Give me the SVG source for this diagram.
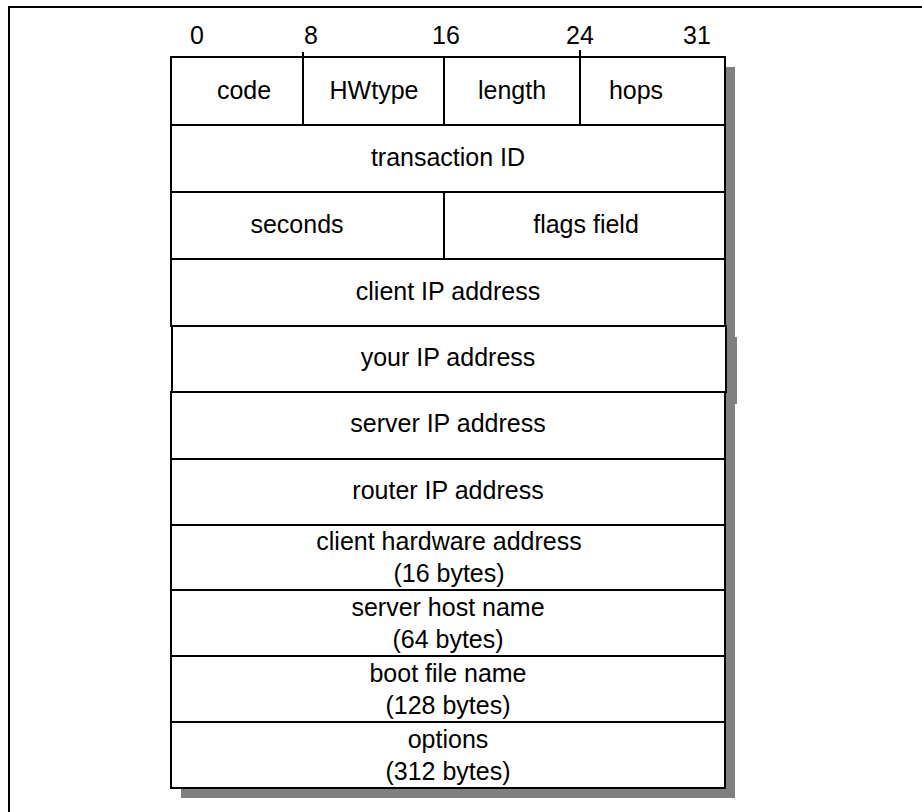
<svg xmlns="http://www.w3.org/2000/svg" width="922" height="812" viewBox="0 0 922 812">
<style>
.t{font-family:"Liberation Sans",Arial,sans-serif;font-size:25px;fill:#000;text-anchor:middle}
.c{fill:#fff;stroke:#000;stroke-width:2}
.l{stroke:#000;stroke-width:2;fill:none}
.s{fill:#808080}
</style>
<rect x="9" y="7" width="940" height="840" fill="#fff" stroke="#000" stroke-width="2"/>
<g id="shadow">
<rect class="s" x="181" y="67" width="554" height="731"/>
<rect class="s" x="728" y="337" width="9" height="67"/>
</g>
<g id="bits">
<text class="t" x="197" y="44">0</text>
<text class="t" x="311" y="44">8</text>
<text class="t" x="446" y="44">16</text>
<text class="t" x="580" y="44">24</text>
<text class="t" x="697" y="44">31</text>
<line class="l" x1="303" y1="52" x2="303" y2="57" stroke-width="1"/>
<line class="l" x1="580" y1="50" x2="580" y2="57" stroke-width="1"/>
</g>
<g id="row-header">
<rect class="c" x="171" y="57" width="554" height="68"/>
<line class="l" x1="303" y1="57" x2="303" y2="125"/>
<line class="l" x1="444" y1="57" x2="444" y2="125"/>
<line class="l" x1="580" y1="57" x2="580" y2="125"/>
<text class="t" x="244" y="99">code</text>
<text class="t" x="374" y="99">HWtype</text>
<text class="t" x="512" y="99">length</text>
<text class="t" x="636" y="99">hops</text>
</g>
<g id="row-transaction">
<rect class="c" x="171" y="125" width="554" height="67"/>
<text class="t" x="448" y="166">transaction ID</text>
</g>
<g id="row-seconds">
<rect class="c" x="171" y="192" width="554" height="67"/>
<line class="l" x1="444" y1="192" x2="444" y2="259"/>
<text class="t" x="297" y="233">seconds</text>
<text class="t" x="586" y="233">flags field</text>
</g>
<g id="row-client-ip">
<rect class="c" x="171" y="259" width="554" height="67"/>
<text class="t" x="448" y="300">client IP address</text>
</g>
<g id="row-your-ip">
<rect class="c" x="172" y="326" width="554" height="66"/>
<text class="t" x="448" y="366">your IP address</text>
</g>
<g id="row-server-ip">
<rect class="c" x="171" y="392" width="554" height="67"/>
<text class="t" x="448" y="432">server IP address</text>
</g>
<g id="row-router-ip">
<rect class="c" x="171" y="459" width="554" height="66"/>
<text class="t" x="448" y="499">router IP address</text>
</g>
<g id="row-chaddr">
<rect class="c" x="171" y="525" width="554" height="65"/>
<text class="t" x="449" y="550">client hardware address</text>
<text class="t" x="449" y="582">(16 bytes)</text>
</g>
<g id="row-sname">
<rect class="c" x="171" y="590" width="554" height="66"/>
<text class="t" x="448" y="616">server host name</text>
<text class="t" x="448" y="648">(64 bytes)</text>
</g>
<g id="row-file">
<rect class="c" x="171" y="656" width="554" height="66"/>
<text class="t" x="448" y="682">boot file name</text>
<text class="t" x="448" y="714">(128 bytes)</text>
</g>
<g id="row-options">
<rect class="c" x="171" y="722" width="554" height="66"/>
<text class="t" x="448" y="748">options</text>
<text class="t" x="448" y="780">(312 bytes)</text>
</g>
<g id="connectors"></g>
</svg>
